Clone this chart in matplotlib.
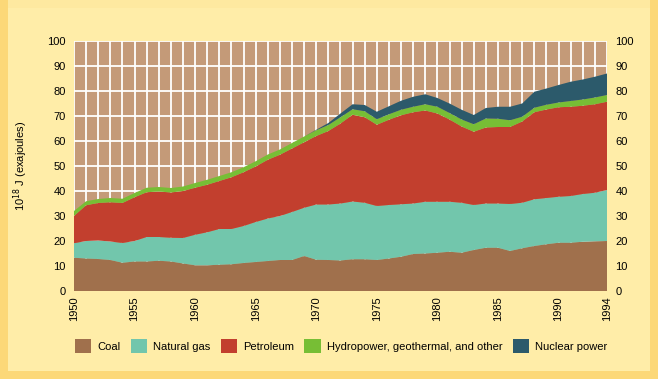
import matplotlib
matplotlib.use("Agg")
import matplotlib.pyplot as plt
from matplotlib.patches import Rectangle, Patch
import numpy as np

plt.rcParams['font.family'] = ['Liberation Sans', 'DejaVu Sans']

years = list(range(1950, 1995))
coal = [13.3, 13.0, 12.8, 12.4, 11.3, 11.8, 11.8, 12.1, 11.8, 11.0,
        10.3, 10.3, 10.5, 10.7, 11.2, 11.6, 12.0, 12.4, 12.4, 14.0,
        12.5, 12.4, 12.2, 12.7, 12.7, 12.4, 13.0, 13.7, 14.8, 15.0,
        15.3, 15.7, 15.3, 16.4, 17.3, 17.3, 16.0, 17.1, 18.0, 18.7,
        19.3, 19.3, 19.7, 19.9, 20.0]
natural_gas = [5.8, 7.0, 7.4, 7.4, 7.9, 8.2, 9.8, 9.5, 9.5, 10.2,
               12.2, 13.2, 14.3, 14.1, 14.8, 16.0, 17.0, 17.6, 19.2, 19.3,
               22.1, 22.2, 22.8, 23.1, 22.6, 21.6, 21.4, 21.0, 20.2, 20.7,
               20.4, 20.0, 20.0, 18.0, 17.7, 17.7, 18.8, 18.2, 18.7, 18.5,
               18.4, 18.7, 19.1, 19.4, 20.4]
petroleum = [10.9, 14.3, 15.0, 15.7, 16.0, 17.5, 17.9, 18.2, 18.1, 18.8,
             18.8, 19.0, 19.2, 20.7, 21.5, 22.2, 23.5, 24.5, 25.4, 26.2,
             27.4, 29.4, 32.0, 34.7, 34.2, 32.5, 34.1, 35.6, 36.5, 36.5,
             35.3, 32.9, 30.5, 29.3, 30.4, 30.6, 30.8, 32.5, 34.8, 35.4,
             35.8, 35.7, 35.3, 35.4, 35.3]
hydro_other = [2.0, 1.6, 1.6, 1.7, 1.7, 1.7, 1.8, 1.8, 1.8, 1.8,
               1.9, 2.0, 2.0, 2.0, 2.0, 2.1, 2.1, 2.1, 2.2, 2.3,
               2.3, 2.4, 2.5, 2.2, 2.4, 2.2, 2.2, 2.2, 2.2, 2.5,
               2.7, 2.6, 2.8, 3.0, 3.6, 3.3, 2.7, 1.9, 1.8, 1.9,
               1.9, 2.3, 2.5, 2.7, 2.7]
nuclear = [0, 0, 0, 0, 0, 0, 0, 0, 0, 0,
           0, 0, 0, 0, 0, 0, 0, 0, 0, 0,
           0.2, 0.8, 1.5, 2.0, 2.5, 3.0, 3.2, 3.6, 4.0, 4.0,
           3.5, 3.8, 3.9, 3.7, 4.2, 4.8, 5.4, 5.3, 6.4, 6.5,
           7.0, 7.7, 8.0, 8.3, 8.6]

series_labels = ["Coal", "Natural gas", "Petroleum",
                 "Hydropower, geothermal, and other", "Nuclear power"]
colors = ["#A0704C", "#72C6AC", "#C23F2E", "#77BE35", "#2C5A6B"]
xtick_vals = [1950, 1955, 1960, 1965, 1970, 1975, 1980, 1985, 1990, 1994]
ytick_vals = list(range(0, 101, 10))

fig = plt.figure(figsize=(6.58, 3.79), dpi=100)
fig.patch.set_facecolor("#FCD878")
# inner light panel
fig.add_artist(Rectangle((8/658, 8/379), (650-8)/658, (371-8)/379,
                         transform=fig.transFigure, facecolor="#FFEDA8",
                         edgecolor="none", zorder=-10))
fig.add_artist(Rectangle((8/658, (379-8)/379), (650-8)/658, 8/379,
                         transform=fig.transFigure, facecolor="#FEE9A0",
                         edgecolor="none", zorder=-10))

ax = fig.add_axes([74/658, (379-291)/379, 533/658, 250/379])
ax.set_facecolor("#C49A78")
ax.stackplot(years, coal, natural_gas, petroleum, hydro_other, nuclear,
             colors=colors, linewidth=0, zorder=3)

ax.set_xlim(1950, 1994)
ax.set_ylim(0, 100)
ax.set_xticks(xtick_vals)
ax.set_xticklabels([str(v) for v in xtick_vals], rotation=90, fontsize=8)
ax.set_xticks(years, minor=True)
ax.set_yticks(ytick_vals)
ax.set_yticklabels([str(v) for v in ytick_vals], fontsize=8)
ax.grid(True, which="both", axis="x", color="white", linewidth=1.3, zorder=1)
ax.grid(True, which="major", axis="y", color="white", linewidth=1.3, zorder=1)
ax.set_axisbelow(True)
ax.tick_params(axis="both", which="both", length=0)
ax.tick_params(axis="y", labelright=True, pad=6)
ax.tick_params(axis="x", pad=4)
for s in ax.spines.values():
    s.set_visible(False)

ax.set_ylabel(r"10$^{18}$ J (exajoules)", fontsize=8)
ax.yaxis.set_label_coords(-0.083, 0.5)

handles = [Patch(facecolor=c, edgecolor="none") for c in colors]
fig.legend(handles, series_labels, loc="center", ncol=5,
           bbox_to_anchor=(341/658, (379-346)/379), frameon=False,
           fontsize=8, handlelength=1.5, handleheight=1.6,
           handletextpad=0.5, columnspacing=0.95, borderpad=0)

fig.savefig("out.png", dpi=100, facecolor=fig.get_facecolor())
